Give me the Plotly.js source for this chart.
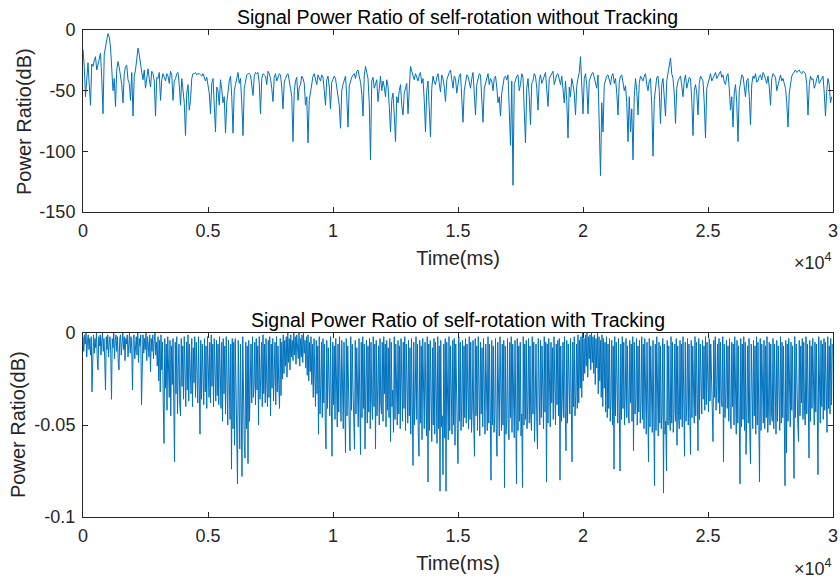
<!DOCTYPE html>
<html><head><meta charset="utf-8">
<script src="https://cdn.plot.ly/plotly-3.0.1.min.js"></script>
<style>html,body{margin:0;padding:0;background:#fff}</style>
</head><body><div id="chart" style="width:840px;height:578px"></div>
<script>
// Sampling of both series (ms)
const startTime = 0;
const step1 = 50;    // ms between samples, top series
const step2 = 30;    // ms between samples, bottom series

// Top: power ratio without tracking (dB)
const ratioWithout = [
-16,-30,-55,-35,-27,-45,-62,-28,-30,-25,-22,-33,-28,-24,-19,-40,-69,-20,-12,-8,
-3,-6,-14,-30,-50,-40,-63,-33,-26,-31,-38,-45,-60,-36,-30,-29,-41,-44,-58,-35,
-71,-38,-33,-22,-15,-20,-29,-35,-41,-33,-48,-37,-32,-40,-47,-34,-36,-42,-71,-39,
-40,-35,-58,-41,-36,-39,-42,-36,-38,-44,-34,-37,-58,-42,-40,-36,-35,-45,-62,-40,
-48,-60,-87,-52,-45,-66,-58,-40,-36,-36,-35,-37,-36,-36,-37,-38,-36,-40,-42,-39,
-45,-52,-69,-44,-40,-58,-84,-47,-50,-62,-41,-49,-60,-55,-85,-60,-48,-42,-38,-55,
-85,-50,-45,-38,-35,-44,-40,-60,-87,-48,-42,-37,-36,-36,-37,-46,-54,-38,-35,-36,
-35,-44,-69,-40,-36,-37,-38,-45,-34,-36,-40,-48,-59,-39,-36,-42,-38,-36,-37,-47,
-65,-43,-40,-37,-36,-41,-48,-55,-92,-50,-42,-39,-58,-47,-45,-38,-40,-44,-62,-55,
-93,-58,-50,-42,-38,-36,-40,-45,-37,-39,-42,-37,-39,-50,-62,-41,-38,-47,-65,-43,
-41,-38,-40,-47,-55,-62,-81,-50,-45,-40,-38,-55,-80,-46,-42,-39,-37,-36,-40,-34,
-33,-37,-43,-52,-71,-38,-30,-35,-40,-60,-107,-42,-39,-48,-45,-41,-59,-44,-38,-50,
-42,-47,-55,-41,-46,-63,-84,-58,-52,-70,-92,-55,-60,-50,-45,-62,-70,-52,-48,-44,
-69,-45,-30,-34,-38,-41,-36,-39,-42,-37,-35,-44,-40,-58,-84,-50,-42,-65,-88,-48,
-38,-43,-45,-39,-36,-44,-51,-37,-40,-47,-59,-41,-37,-35,-33,-40,-48,-38,-40,-52,
-45,-38,-36,-55,-76,-50,-42,-37,-38,-44,-48,-40,-35,-52,-70,-45,-40,-36,-37,-60,
-76,-48,-43,-38,-36,-45,-40,-42,-50,-40,-38,-47,-60,-55,-71,-52,-44,-39,-38,-41,
-37,-60,-95,-42,-128,-45,-40,-38,-37,-50,-45,-36,-39,-60,-93,-48,-40,-55,-78,-44,
-42,-36,-38,-48,-66,-41,-37,-44,-40,-38,-35,-47,-63,-40,-38,-36,-34,-45,-40,-37,
-36,-41,-45,-38,-50,-60,-42,-58,-89,-47,-55,-40,-45,-52,-70,-46,-40,-35,-22,-50,
-69,-40,-36,-45,-69,-42,-38,-36,-35,-39,-42,-48,-37,-75,-120,-60,-84,-45,-40,-38,
-37,-41,-45,-38,-36,-44,-40,-52,-70,-43,-38,-37,-42,-50,-46,-60,-92,-55,-84,-65,
-107,-55,-40,-50,-70,-44,-38,-40,-42,-38,-36,-45,-50,-42,-40,-62,-104,-58,-45,-39,
-38,-50,-77,-45,-40,-55,-71,-42,-35,-30,-23,-36,-40,-52,-77,-48,-42,-40,-38,-46,
-55,-42,-37,-48,-44,-39,-40,-58,-87,-50,-45,-52,-70,-44,-38,-40,-42,-60,-89,-48,
-44,-38,-36,-42,-40,-37,-35,-40,-38,-36,-34,-39,-37,-43,-45,-38,-36,-48,-66,-55,
-80,-52,-45,-60,-92,-50,-42,-37,-38,-46,-55,-42,-40,-55,-78,-45,-38,-40,-36,-43,
-42,-38,-37,-41,-35,-37,-40,-44,-38,-47,-62,-40,-36,-38,-39,-50,-45,-39,-37,-42,
-40,-44,-48,-60,-80,-52,-42,-38,-36,-34,-33,-35,-34,-33,-35,-36,-34,-35,-36,-45,
-70,-46,-38,-41,-40,-48,-45,-40,-37,-44,-42,-39,-38,-52,-71,-50,-40,-45,-60,-55
];

// Bottom: power ratio with tracking (dB)
const ratioWith = [
-.002,-.010,-.001,-.006,-.000,-.013,-.004,-.001,-.009,-.003,
-.012,-.002,-.032,-.005,-.001,-.011,-.003,-.008,-.000,-.014,
-.020,-.002,-.007,-.001,-.012,-.004,-.000,-.010,-.003,-.015,
-.031,-.002,-.009,-.001,-.013,-.005,-.002,-.011,-.036,-.003,
-.008,-.000,-.014,-.004,-.001,-.010,-.002,-.016,-.020,-.003,
-.001,-.012,-.004,-.000,-.009,-.002,-.015,-.003,-.006,-.001,
-.013,-.004,-.000,-.011,-.002,-.008,-.031,-.003,-.001,-.014,
-.005,-.002,-.012,-.000,-.016,-.003,-.007,-.001,-.039,-.004,
-.001,-.011,-.003,-.009,-.000,-.015,-.002,-.006,-.013,-.001,
-.021,-.003,-.010,-.001,-.014,-.004,-.000,-.012,-.005,-.018,
-.002,-.026,-.004,-.032,-.001,-.020,-.005,-.038,-.060,-.003,
-.030,-.006,-.042,-.002,-.024,-.035,-.004,-.045,-.007,-.028,
-.003,-.040,-.070,-.005,-.033,-.002,-.044,-.018,-.006,-.038,
-.045,-.003,-.029,-.007,-.036,-.002,-.022,-.040,-.005,-.031,
-.001,-.037,-.006,-.019,-.033,-.003,-.040,-.008,-.027,-.002,
-.035,-.005,-.024,-.038,-.002,-.030,-.055,-.004,-.036,-.006,
-.021,-.039,-.003,-.032,-.007,-.041,-.002,-.026,-.035,-.005,
-.038,-.001,-.029,-.006,-.040,-.003,-.023,-.037,-.004,-.034,
-.006,-.039,-.002,-.028,-.041,-.005,-.048,-.003,-.033,-.007,
-.044,-.002,-.036,-.050,-.004,-.030,-.047,-.006,-.074,-.003,
-.052,-.005,-.061,-.003,-.040,-.058,-.082,-.004,-.049,-.063,
-.006,-.055,-.078,-.002,-.046,-.060,-.068,-.005,-.052,-.007,
-.071,-.004,-.048,-.033,-.006,-.038,-.002,-.035,-.029,-.005,
-.039,-.003,-.031,-.007,-.050,-.002,-.036,-.024,-.005,-.040,
-.001,-.033,-.006,-.038,-.003,-.027,-.040,-.004,-.035,-.002,
-.045,-.006,-.030,-.003,-.037,-.021,-.005,-.039,-.002,-.032,
-.007,-.028,-.041,-.003,-.034,-.005,-.025,-.001,-.022,-.004,
-.018,-.002,-.024,-.000,-.016,-.003,-.020,-.001,-.013,-.004,
-.015,-.000,-.012,-.002,-.017,-.001,-.009,-.014,-.000,-.018,
-.003,-.013,-.001,-.016,-.000,-.011,-.004,-.019,-.002,-.023,
-.001,-.026,-.005,-.021,-.002,-.028,-.006,-.035,-.003,-.030,
-.040,-.004,-.033,-.007,-.055,-.002,-.044,-.029,-.005,-.046,
-.003,-.038,-.006,-.049,-.063,-.004,-.041,-.008,-.030,-.045,
-.002,-.050,-.067,-.005,-.039,-.007,-.047,-.003,-.032,-.051,
-.006,-.043,-.002,-.036,-.048,-.004,-.028,-.052,-.005,-.040,
-.065,-.003,-.045,-.007,-.037,-.050,-.064,-.002,-.042,-.006,
-.031,-.048,-.063,-.004,-.044,-.008,-.039,-.051,-.003,-.034,
-.066,-.005,-.046,-.002,-.041,-.006,-.063,-.030,-.004,-.049,
-.007,-.043,-.003,-.052,-.005,-.036,-.047,-.002,-.040,-.006,
-.063,-.004,-.045,-.029,-.007,-.050,-.003,-.038,-.044,-.005,
-.048,-.002,-.033,-.006,-.051,-.004,-.042,-.008,-.046,-.003,
-.059,-.005,-.040,-.031,-.054,-.002,-.047,-.006,-.036,-.050,
-.004,-.044,-.007,-.052,-.003,-.039,-.048,-.005,-.041,-.002,
-.053,-.006,-.037,-.049,-.004,-.045,-.008,-.055,-.003,-.042,
-.072,-.005,-.050,-.033,-.002,-.047,-.006,-.054,-.067,-.004,
-.049,-.007,-.058,-.003,-.044,-.052,-.005,-.040,-.056,-.002,
-.081,-.006,-.053,-.004,-.047,-.059,-.008,-.050,-.003,-.055,
-.005,-.048,-.060,-.002,-.052,-.007,-.086,-.004,-.051,-.045,
-.077,-.006,-.057,-.003,-.086,-.005,-.049,-.058,-.002,-.053,
-.007,-.047,-.055,-.004,-.050,-.003,-.061,-.006,-.044,-.052,
-.071,-.002,-.048,-.005,-.053,-.038,-.004,-.051,-.007,-.046,
-.003,-.049,-.006,-.043,-.052,-.002,-.047,-.005,-.054,-.040,
-.004,-.050,-.067,-.003,-.045,-.007,-.053,-.002,-.048,-.056,
-.005,-.044,-.008,-.051,-.003,-.047,-.055,-.006,-.042,-.053,
-.002,-.049,-.006,-.057,-.080,-.004,-.050,-.007,-.054,-.045,
-.003,-.052,-.067,-.005,-.048,-.056,-.002,-.044,-.053,-.006,
-.050,-.004,-.084,-.007,-.055,-.047,-.003,-.052,-.058,-.005,
-.046,-.002,-.054,-.006,-.049,-.057,-.004,-.051,-.082,-.003,
-.053,-.007,-.048,-.005,-.056,-.044,-.084,-.002,-.050,-.006,
-.047,-.004,-.052,-.039,-.003,-.049,-.007,-.045,-.053,-.002,
-.044,-.005,-.059,-.036,-.006,-.048,-.063,-.003,-.042,-.050,
-.004,-.046,-.007,-.040,-.052,-.002,-.043,-.005,-.081,-.006,
-.049,-.003,-.044,-.051,-.005,-.038,-.008,-.047,-.002,-.042,
-.050,-.006,-.039,-.004,-.045,-.003,-.080,-.007,-.048,-.036,
-.005,-.046,-.002,-.041,-.064,-.004,-.049,-.006,-.037,-.044,
-.003,-.048,-.070,-.005,-.040,-.002,-.045,-.034,-.006,-.041,
-.001,-.038,-.004,-.030,-.002,-.035,-.000,-.026,-.003,-.022,
-.001,-.018,-.000,-.024,-.002,-.014,-.001,-.020,-.000,-.016,
-.002,-.022,-.001,-.028,-.003,-.019,-.000,-.033,-.002,-.026,
-.004,-.035,-.001,-.040,-.003,-.030,-.005,-.043,-.002,-.046,
-.006,-.041,-.003,-.048,-.035,-.004,-.050,-.007,-.074,-.002,
-.045,-.005,-.039,-.049,-.003,-.043,-.075,-.006,-.047,-.002,
-.041,-.005,-.050,-.034,-.003,-.046,-.007,-.042,-.049,-.004,
-.038,-.006,-.048,-.002,-.064,-.005,-.044,-.036,-.003,-.050,
-.007,-.043,-.004,-.049,-.039,-.002,-.047,-.006,-.052,-.003,
-.045,-.055,-.005,-.048,-.070,-.003,-.051,-.007,-.046,-.054,
-.004,-.050,-.083,-.006,-.053,-.002,-.047,-.056,-.005,-.049,
-.007,-.052,-.044,-.003,-.087,-.006,-.055,-.048,-.075,-.004,
-.050,-.007,-.046,-.053,-.002,-.049,-.005,-.054,-.043,-.006,
-.048,-.003,-.061,-.007,-.045,-.052,-.004,-.047,-.006,-.051,
-.002,-.044,-.067,-.005,-.048,-.039,-.003,-.050,-.006,-.043,
-.066,-.004,-.046,-.007,-.041,-.049,-.002,-.045,-.005,-.038,
-.064,-.003,-.047,-.006,-.040,-.044,-.004,-.036,-.007,-.042,
-.002,-.039,-.005,-.033,-.043,-.003,-.037,-.006,-.030,-.041,
-.059,-.004,-.035,-.002,-.042,-.028,-.006,-.038,-.003,-.044,
-.005,-.036,-.040,-.002,-.070,-.006,-.046,-.033,-.004,-.041,
-.007,-.048,-.003,-.044,-.052,-.005,-.040,-.006,-.050,-.002,
-.046,-.055,-.004,-.049,-.007,-.043,-.082,-.003,-.051,-.006,
-.047,-.002,-.053,-.005,-.066,-.044,-.007,-.049,-.003,-.054,
-.071,-.006,-.048,-.052,-.004,-.045,-.007,-.055,-.002,-.050,
-.005,-.047,-.081,-.003,-.053,-.006,-.044,-.049,-.004,-.052,
-.007,-.046,-.002,-.054,-.040,-.005,-.050,-.006,-.043,-.048,
-.003,-.052,-.006,-.045,-.055,-.004,-.048,-.007,-.041,-.053,
-.002,-.049,-.005,-.046,-.007,-.054,-.083,-.004,-.065,-.006,
-.048,-.003,-.044,-.051,-.005,-.042,-.007,-.050,-.079,-.002,
-.046,-.006,-.040,-.049,-.059,-.004,-.045,-.007,-.038,-.003,
-.047,-.005,-.042,-.050,-.002,-.044,-.006,-.039,-.068,-.004,
-.048,-.007,-.041,-.003,-.046,-.050,-.005,-.043,-.006,-.037,
-.077,-.002,-.045,-.049,-.004,-.040,-.006,-.047,-.003,-.042,
-.005,-.046,-.054,-.002,-.041,-.007,-.044,-.003,-.039,-.006
];

const xTickVals = [0, 5000, 10000, 15000, 20000, 25000, 30000];
const xTickText = ['0', '0.5', '1', '1.5', '2', '2.5', '3'];
const y1TickVals = [0, -50, -100, -150];
const y1TickText = ['0', '-50', '-100', '-150'];
const y2TickVals = [0, -0.05, -0.1];
const y2TickText = ['0', '-0.05', '-0.1'];

const titleTop = 'Signal Power Ratio of self-rotation without Tracking';
const titleBottom = 'Signal Power Ratio of self-rotation with Tracking';
const xLabel = 'Time(ms)';
const yLabel = 'Power Ratio(dB)';

const LINE = '#0072BD';
const AX = '#262626';
const FONT = 'Liberation Sans, Arial, sans-serif';
const W = 840, H = 578;

function px2x(p) { return p / W; }
function px2y(p) { return (H - p) / H; }

const traces = [
  { type: 'scatter', mode: 'lines', x0: startTime, dx: step1, y: ratioWithout,
    xaxis: 'x', yaxis: 'y', line: { color: LINE, width: 1 }, hoverinfo: 'skip' },
  { type: 'scatter', mode: 'lines', x0: startTime, dx: step2, y: ratioWith,
    xaxis: 'x2', yaxis: 'y2', line: { color: LINE, width: 1 }, hoverinfo: 'skip' }
];

function xAxis(anchor) {
  return {
    domain: [px2x(83), px2x(833)], anchor: anchor, range: [0, 30000],
    tickvals: xTickVals, ticktext: xTickText, ticks: 'inside', ticklen: 5,
    tickcolor: AX, showline: true, linecolor: AX, linewidth: 1, mirror: 'ticks',
    showgrid: false, zeroline: false, ticklabelstandoff: 2,
    tickfont: { family: FONT, size: 18, color: AX },
    title: { text: xLabel, font: { family: FONT, size: 20, color: AX }, standoff: 11 },
    automargin: false
  };
}
function yAxis(anchor, top, bottom, range, vals, text) {
  return {
    domain: [px2y(bottom), px2y(top)], anchor: anchor, range: range,
    tickvals: vals, ticktext: text, ticks: 'inside', ticklen: 5,
    tickcolor: AX, showline: true, linecolor: AX, linewidth: 1, mirror: 'ticks',
    showgrid: false, zeroline: false, ticklabelstandoff: 3,
    tickfont: { family: FONT, size: 18, color: AX },
    automargin: false
  };
}

function label(text, xp, yp, size, color, extra) {
  return Object.assign({ text: text, x: px2x(xp), y: px2y(yp), xref: 'paper', yref: 'paper',
    xanchor: 'center', yanchor: 'middle', showarrow: false,
    font: { family: FONT, size: size, color: color } }, extra || {});
}

const layout = {
  width: W, height: H,
  margin: { l: 0, r: 0, t: 0, b: 0 },
  paper_bgcolor: '#ffffff', plot_bgcolor: '#ffffff',
  showlegend: false,
  xaxis: xAxis('y'),
  yaxis: yAxis('x', 30, 212, [-150, 0], y1TickVals, y1TickText),
  xaxis2: xAxis('y2'),
  yaxis2: yAxis('x2', 333, 517, [-0.1, 0], y2TickVals, y2TickText),
  annotations: [
    label(titleTop, 458, 17, 19.5, '#000'),
    label(titleBottom, 458, 320, 19.5, '#000'),
    label(yLabel, 24, 122, 20, AX, { textangle: -90 }),
    label(yLabel, 18, 425, 20, AX, { textangle: -90 }),
    label('×10<sup>4</sup>', 834, 262, 18, AX, { xanchor: 'right' }),
    label('×10<sup>4</sup>', 834, 567, 18, AX, { xanchor: 'right' })
  ]
};

Plotly.newPlot('chart', traces, layout, { staticPlot: true, displayModeBar: false });
</script>
</body></html>
